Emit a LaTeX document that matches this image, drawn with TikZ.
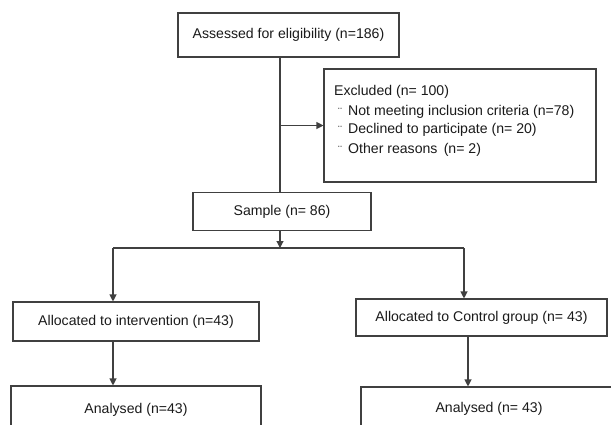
\documentclass[tikz,border=0pt]{standalone}
\usepackage{fontspec}
\setmainfont{Liberation Sans}
\usetikzlibrary{arrows.meta}
\definecolor{linec}{HTML}{404040}
\definecolor{txtc}{HTML}{1A1A1A}
\begin{document}
\begin{tikzpicture}[x=1pt,y=-1pt,
  box/.style={draw=linec,line width=1.1pt,fill=white,inner sep=0pt,text=txtc,
    font=\fontsize{14.1}{16}\selectfont},
  txt/.style={inner sep=0pt,text=txtc,font=\fontsize{14.1}{16}\selectfont,anchor=west},
  bul/.style={inner sep=0pt,text=txtc!85,font=\fontsize{12}{12}\selectfont},
  conn/.style={draw=linec,line width=1.1pt},
  arr/.style={conn,-{Triangle[length=7pt,width=7pt]}}]
\useasboundingbox (0,0) rectangle (611,424);
\clip (0,0) rectangle (611,424);
% boxes
\node[box,minimum width=221pt,minimum height=44pt] (top) at (288.5,35) {Assessed for eligibility (n=186)};
\node[box,minimum width=272pt,minimum height=113pt] (excl) at (460,125.5) {};
\node[txt] (ex0) at (334,92) {Excluded (n= 100)};
\node[bul] (b1) at (340,112) {¨};
\node[bul] (b2) at (340,130) {¨};
\node[bul] (b3) at (340,150) {¨};
\node[txt] (ex1) at (348,112) {Not meeting inclusion criteria (n=78)};
\node[txt] (ex2) at (348,130) {Declined to participate (n= 20)};
\node[txt] (ex3) at (348,150) {Other reasons\, (n= 2)};
\node[box,minimum width=178pt,minimum height=38pt] (sample) at (282,211.5) {Sample (n= 86)};
\node[box,minimum width=246pt,minimum height=39pt] (la) at (136,321.5) {Allocated to intervention (n=43)};
\node[box,minimum width=251pt,minimum height=37pt] (ra) at (481.5,317.5) {Allocated to Control group (n= 43)};
\node[box,minimum width=250pt,minimum height=48pt] (lan) at (136,410) {Analysed (n=43)};
\node[box,minimum width=256pt,minimum height=44pt] (ran) at (489,409) {Analysed (n= 43)};
% coordinates
\coordinate (trunk) at (280,0);
\coordinate (split) at (280,248);
\coordinate (lsplit) at (113,248);
\coordinate (rsplit) at (464,248);
\coordinate (rdown) at (468,0);
% connectors
\draw[conn] (top.south -| trunk) -- (sample.north -| trunk);
\draw[arr] (trunk |- excl.west) -- (excl.west);
\draw[arr] (sample.south -| trunk) -- (split);
\draw[conn] (lsplit) -- (rsplit);
\draw[arr] (lsplit) -- (lsplit |- la.north);
\draw[arr] (rsplit) -- (rsplit |- ra.north);
\draw[arr] (la.south -| lsplit) -- (lan.north -| lsplit);
\draw[arr] (ra.south -| rdown) -- (ran.north -| rdown);
\end{tikzpicture}
\end{document}
